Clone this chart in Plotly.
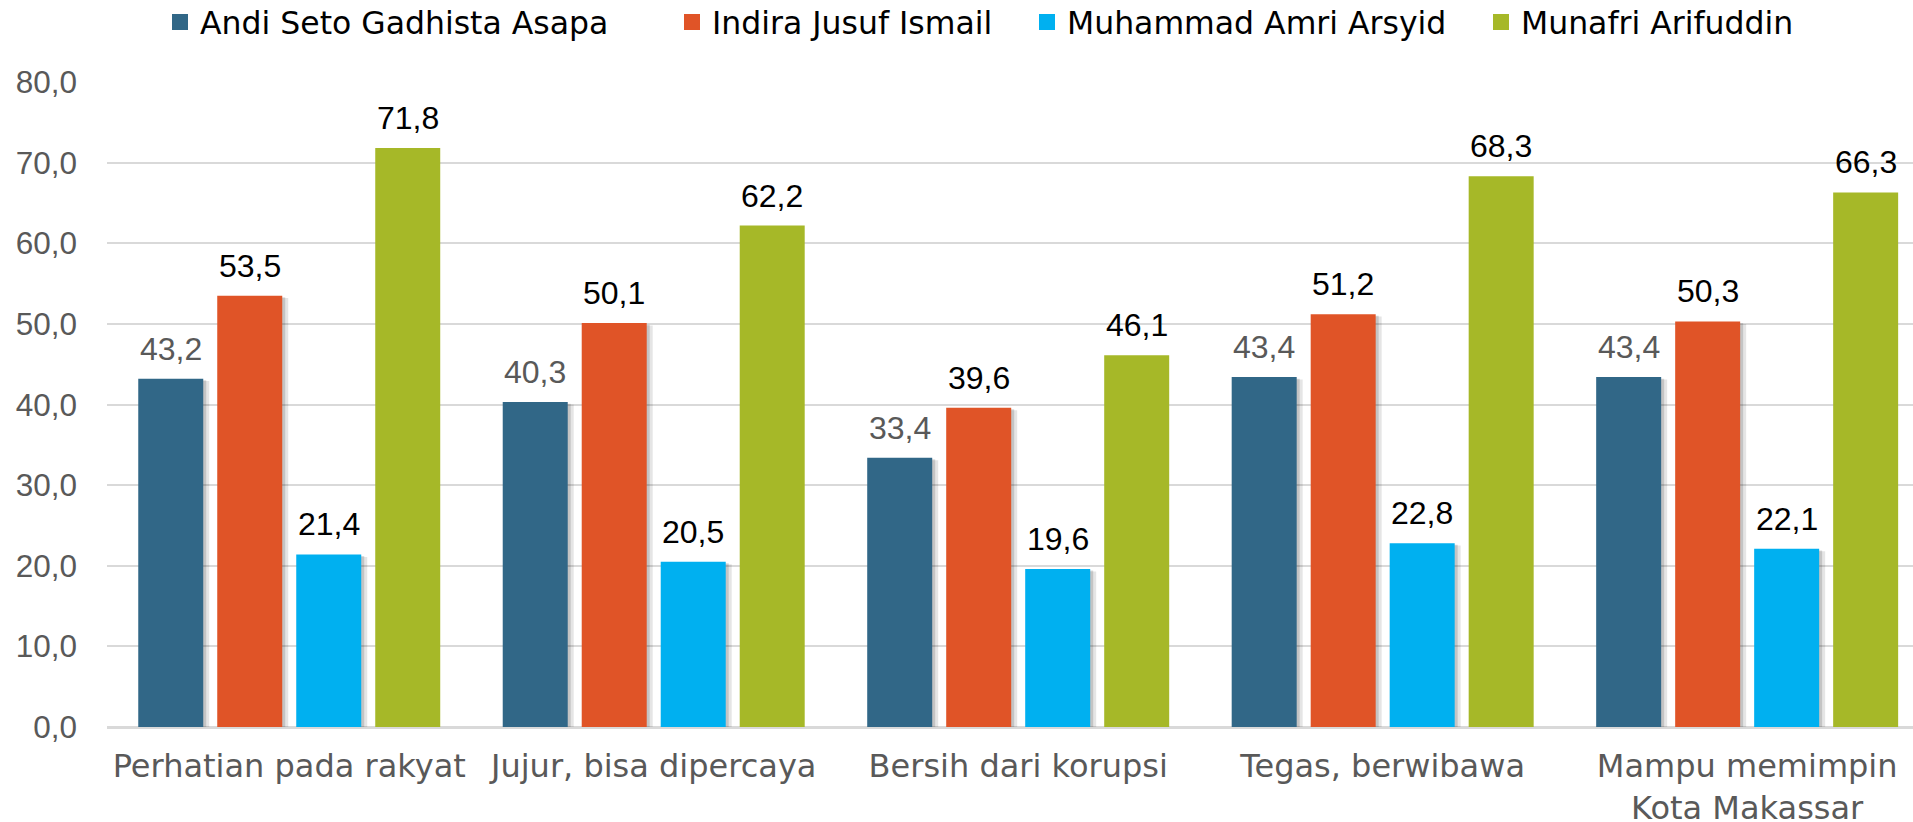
import plotly.graph_objects as go
import numpy as np

categories = ["Perhatian pada rakyat", "Jujur, bisa dipercaya", "Bersih dari korupsi",
              "Tegas, berwibawa", "Mampu memimpin<br>Kota Makassar"]
series_names = ["Andi Seto Gadhista Asapa", "Indira Jusuf Ismail",
                "Muhammad Amri Arsyid", "Munafri Arifuddin"]
andi = [43.2, 40.3, 33.4, 43.4, 43.4]
indira = [53.5, 50.1, 39.6, 51.2, 50.3]
amri = [21.4, 20.5, 19.6, 22.8, 22.1]
munafri = [71.8, 62.2, 46.1, 68.3, 66.3]
y_ticks = [0, 10, 20, 30, 40, 50, 60, 70, 80]

values = [andi, indira, amri, munafri]
colors = ["#316787", "#E05427", "#00B0F0", "#A6B828"]
label_colors = ["#595959", "#000000", "#000000", "#000000"]
has_shadow = [True, True, True, False]
legend_text_px = [202, 714, 1069, 1523]  # left edge of each legend label (px)

FONT = "DejaVu Sans"
NUMFONT = "Liberation Sans"
W, H = 1913, 822
L, R, T, B = 107, 0, 82, 95
plot_w = W - L - R
plot_h = H - T - B
cat_px = 364.5
slot = 79 / cat_px
bw = 65 / cat_px
xpos = np.arange(len(categories))
legend_ids = ["legend", "legend2", "legend3", "legend4"]

fig = go.Figure()
# soft drop shadows
for i, vals in enumerate(values):
    if not has_shadow[i]:
        continue
    xs = xpos + (i - 1.5) * slot + 5 / cat_px
    fig.add_trace(go.Bar(x=xs, y=[v - 0.3 for v in vals], base=0, width=bw + 2 / cat_px,
                         marker=dict(color="rgba(0,0,0,0.10)", line=dict(width=0)),
                         showlegend=False, hoverinfo="skip"))
    xs2 = xpos + (i - 1.5) * slot + 3 / cat_px
    fig.add_trace(go.Bar(x=xs2, y=[v - 0.2 for v in vals], base=0, width=bw,
                         marker=dict(color="rgba(0,0,0,0.14)", line=dict(width=0)),
                         showlegend=False, hoverinfo="skip"))
for i, vals in enumerate(values):
    xs = xpos + (i - 1.5) * slot
    fig.add_trace(go.Bar(x=xs, y=vals, width=bw, name=series_names[i], showlegend=False,
                         marker=dict(color=colors[i], line=dict(width=0))))
    # legend entry with a larger square swatch
    fig.add_trace(go.Scatter(x=[None], y=[None], mode="markers", name=series_names[i],
                             legend=legend_ids[i], hoverinfo="skip",
                             marker=dict(symbol="square", size=16, color=colors[i],
                                         line=dict(width=0))))
    for xv, v in zip(xs, vals):
        fig.add_annotation(x=xv, y=v, text=f"{v:.1f}".replace(".", ","), showarrow=False,
                           yanchor="bottom", yshift=10,
                           font=dict(family=NUMFONT, size=32, color=label_colors[i]))

legend_layout = {}
for i, lid in enumerate(legend_ids):
    legend_layout[lid] = dict(orientation="h", x=(legend_text_px[i] - 42 - L) / plot_w,
                              xanchor="left", y=1 + (T - 22) / plot_h, yanchor="middle",
                              bgcolor="rgba(0,0,0,0)",
                              font=dict(family=FONT, size=31.5, color="#000000"))

fig.update_layout(
    width=W, height=H, barmode="overlay", separators=",.",
    margin=dict(l=L, r=R, t=T, b=B, autoexpand=False),
    paper_bgcolor="white", plot_bgcolor="white",
    font=dict(family=FONT, size=32, color="#595959"),
    xaxis=dict(range=[-0.5, 4.455], tickmode="array", tickvals=list(xpos), ticktext=categories,
               showgrid=False, zeroline=False, showline=False, ticks="", automargin=False,
               tickfont=dict(family=FONT, size=32, color="#595959")),
    yaxis=dict(range=[0, 80], tickmode="array", tickvals=y_ticks, tickformat=".1f",
               showgrid=True, gridcolor="#D9D9D9", gridwidth=2, zeroline=True,
               zerolinecolor="#D9D9D9", zerolinewidth=3, showline=False, ticks="",
               automargin=False,
               tickfont=dict(family=NUMFONT, size=31.5, color="#595959")),
    **legend_layout,
)
fig.update_yaxes(ticklabelstandoff=29)
fig.update_xaxes(ticklabelstandoff=17)
fig.write_html("out.html", config={"displayModeBar": False},
               post_script="document.body.style.margin='0';")
